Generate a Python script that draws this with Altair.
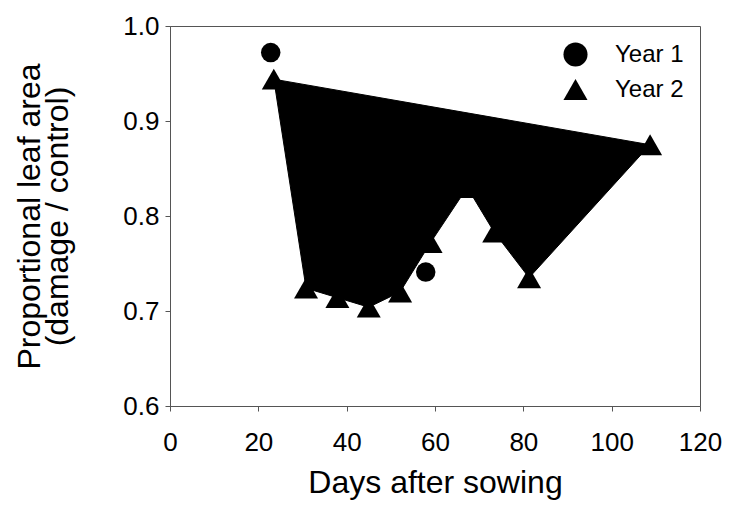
import altair as alt
import pandas as pd

# Days after sowing and proportional leaf area (damage / control)
year1_days = [22.8, 57.9]
year1_area = [0.972, 0.741]

year2_days = [23.5, 30.8, 37.9, 45.0, 52.1, 59.0, 67.3, 73.4, 81.3, 108.7]
year2_area = [0.944, 0.724, 0.714, 0.704, 0.720, 0.772, 0.830, 0.783, 0.735, 0.875]

x_ticks = [0, 20, 40, 60, 80, 100, 120]
y_ticks = [0.6, 0.7, 0.8, 0.9, 1.0]
series = ["Year 1", "Year 2"]

df1 = pd.DataFrame({"days": year1_days, "area": year1_area, "year": series[0]})
df2 = pd.DataFrame({"days": year2_days, "area": year2_area, "year": series[1]})

FONT = "Liberation Sans"
AXIS_GREY = "#555555"

x_enc = alt.X(
    "days:Q",
    scale=alt.Scale(domain=[0, 120], nice=False, zero=False),
    axis=alt.Axis(
        values=x_ticks,
        format="d",
        title="Days after sowing",
        labelPadding=18,
        titlePadding=12,
    ),
)
y_enc = alt.Y(
    "area:Q",
    scale=alt.Scale(domain=[0.6, 1.0], nice=False, zero=False),
    axis=alt.Axis(
        values=y_ticks,
        format=".1f",
        title=["Proportional leaf area", "(damage / control)"],
        labelPadding=6,
        titlePadding=48,
        titleLineHeight=28,
    ),
)

shape_enc = alt.Shape(
    "year:N",
    scale=alt.Scale(domain=series, range=["circle", "triangle-up"]),
    legend=alt.Legend(title=None, orient="none", legendX=393, legendY=16),
)

# Year 2 series drawn as a closed, filled outline
outline = (
    alt.Chart(df2)
    .mark_line(interpolate="linear-closed", color="black", fill="black", strokeWidth=1)
    .encode(x=x_enc, y=y_enc, order="days:Q")
)

circles = (
    alt.Chart(df1)
    .mark_point(filled=True, opacity=1, color="black", size=380)
    .encode(x=x_enc, y=y_enc, shape=shape_enc)
)

triangles = (
    alt.Chart(df2)
    .mark_point(filled=True, opacity=1, color="black", size=576)
    .encode(x=x_enc, y=y_enc, shape=shape_enc)
)

chart = (
    alt.layer(outline, circles, triangles)
    .properties(
        width=530,
        height=380,
        autosize=alt.AutoSizeParams(type="none"),
        padding={"left": 170, "top": 26, "right": 31, "bottom": 118},
        background="white",
    )
    .configure_view(stroke=AXIS_GREY, strokeWidth=1)
    .configure_axis(
        grid=False,
        labelFont=FONT,
        labelFontSize=26,
        labelColor="black",
        titleFont=FONT,
        titleFontSize=32,
        titleFontWeight="normal",
        titleColor="black",
        domainColor=AXIS_GREY,
        tickColor=AXIS_GREY,
        tickSize=5,
        labelFlush=False,
    )
    .configure_legend(
        labelFont=FONT,
        labelFontSize=24,
        labelColor="black",
        labelOffset=27,
        symbolSize=580,
        symbolFillColor="black",
        symbolStrokeColor="black",
        symbolStrokeWidth=0,
        rowPadding=10,
        padding=0,
        labelLimit=200,
    )
)

chart.save("out.html", embed_options={"renderer": "svg", "actions": False})
